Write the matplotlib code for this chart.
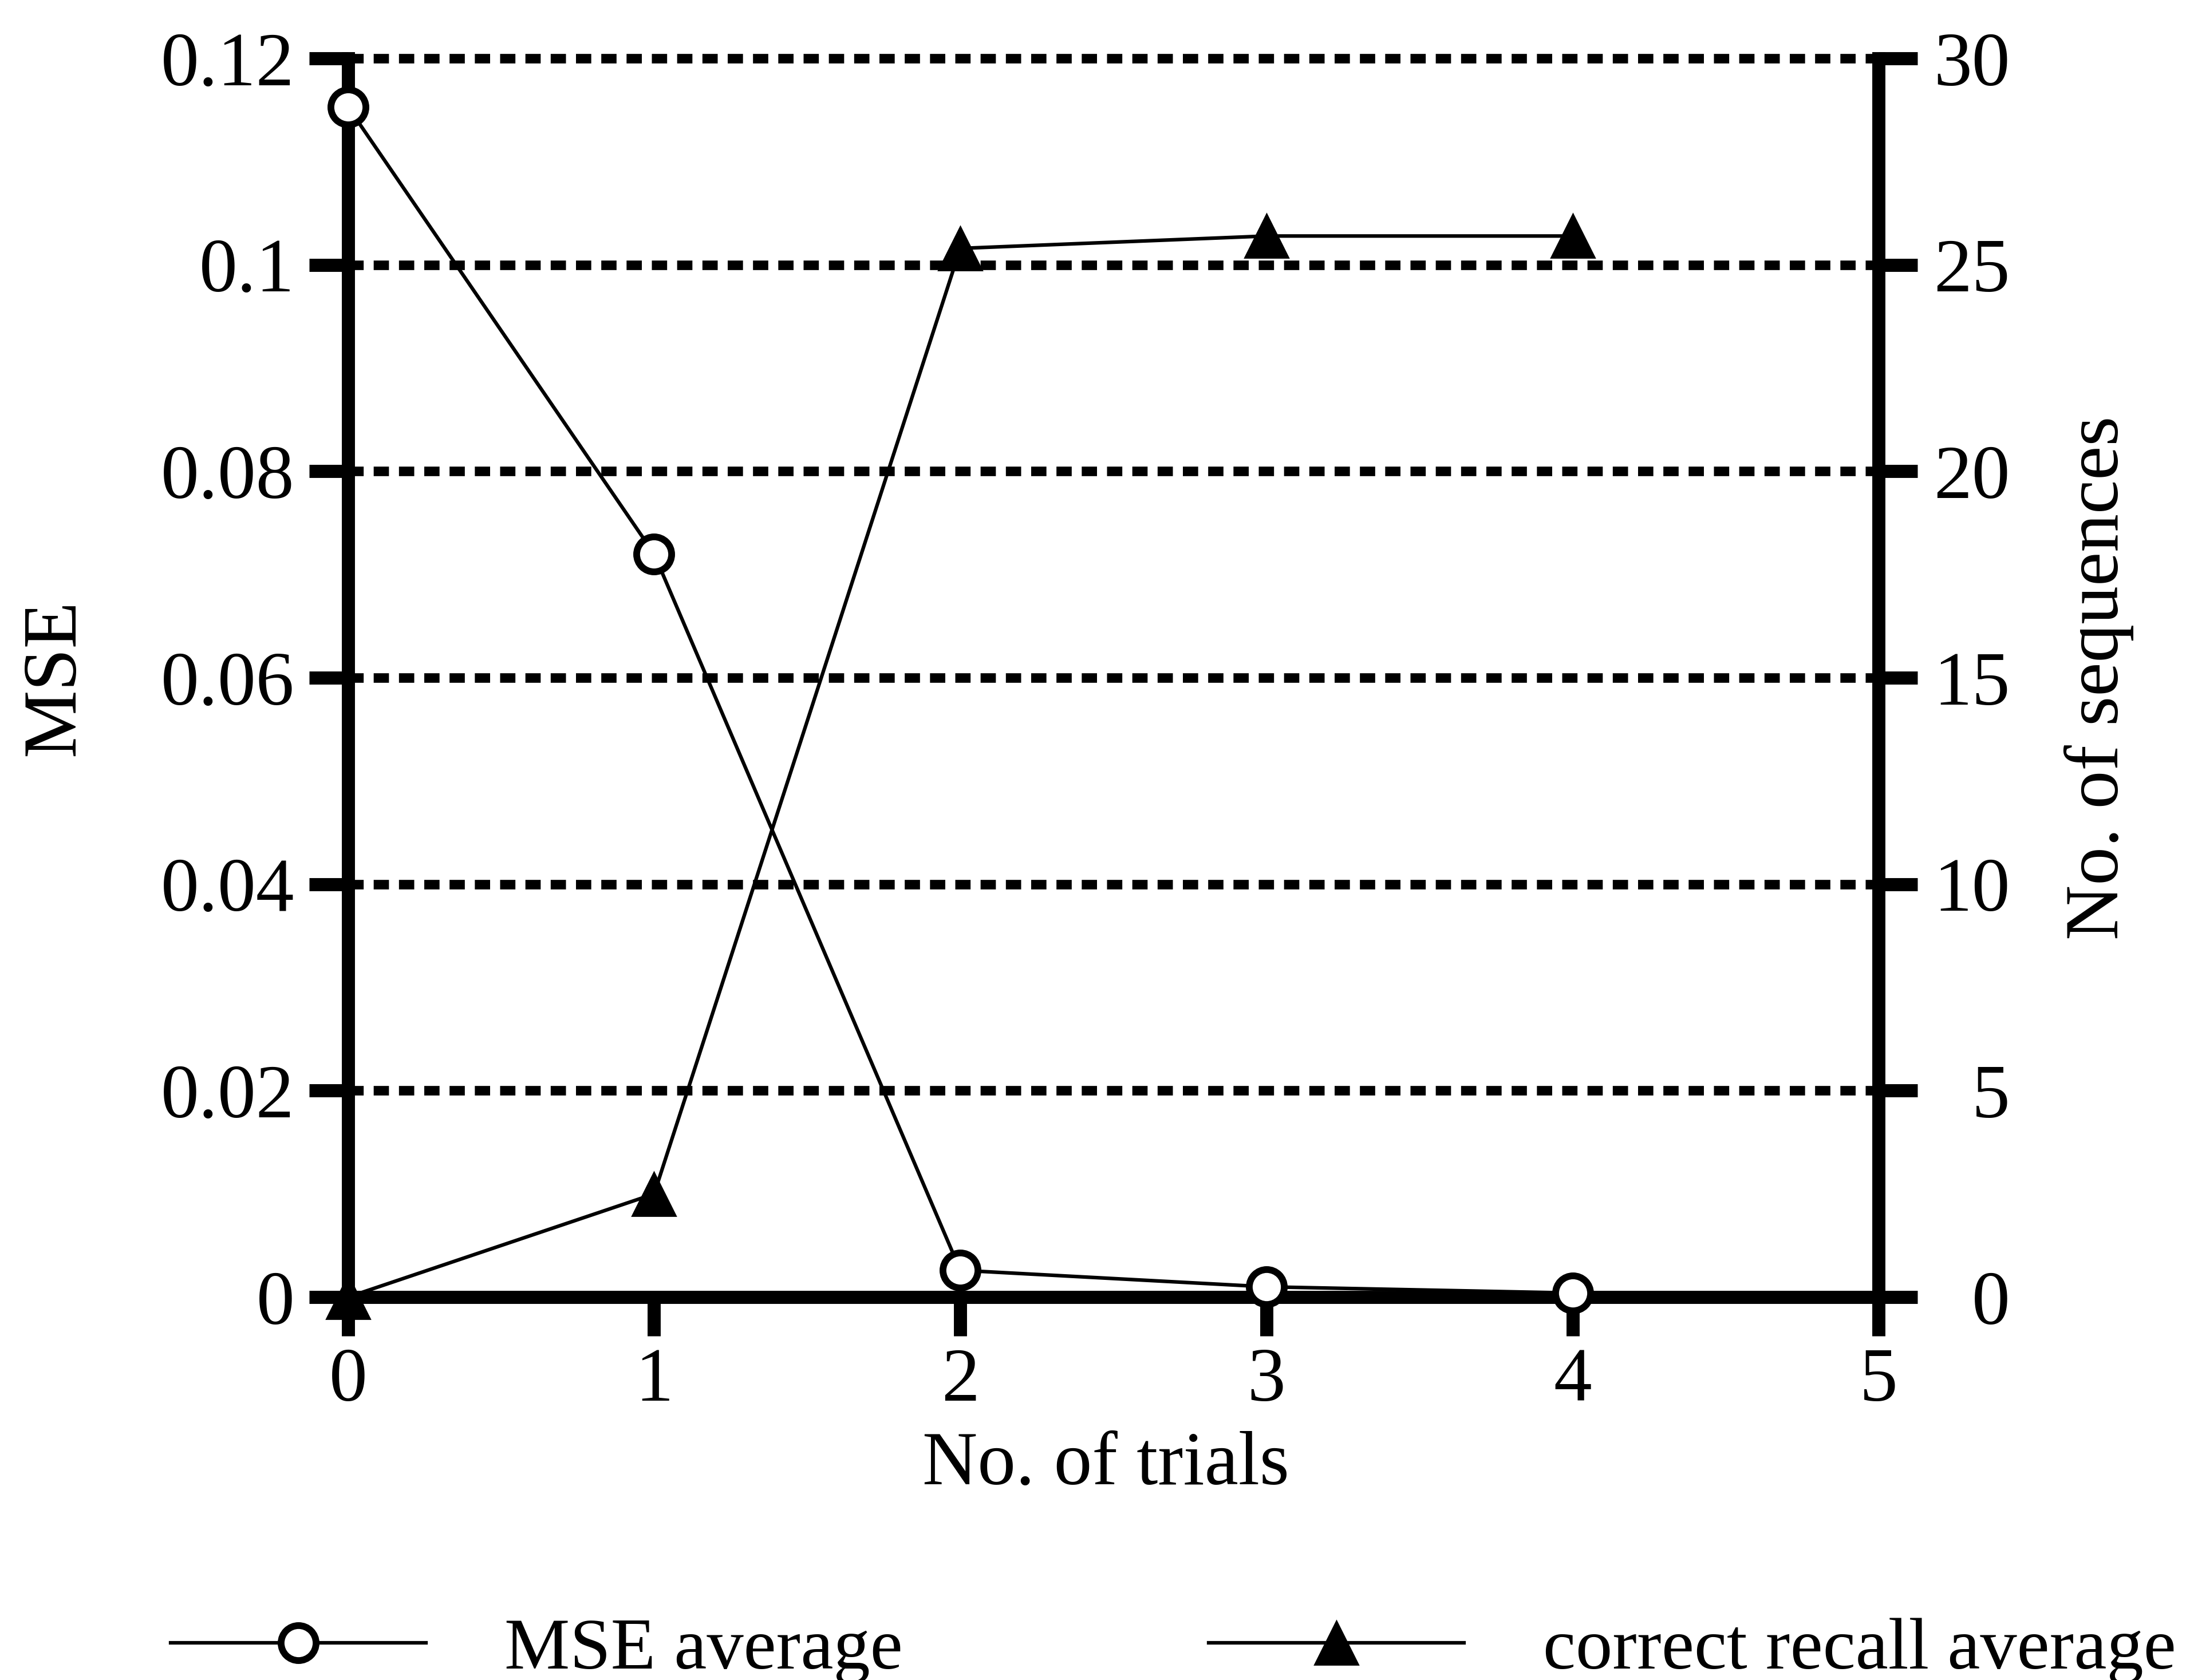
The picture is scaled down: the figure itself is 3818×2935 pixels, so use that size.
import matplotlib
matplotlib.use("Agg")
from matplotlib import pyplot as plt

# trials vs. error and recall
trials = [0, 1, 2, 3, 4]
mse_avg = [0.1153, 0.072, 0.0026, 0.0010, 0.0004]
recall_avg = [0, 2.5, 25.4, 25.7, 25.7]

mse_ticks = [0, 0.02, 0.04, 0.06, 0.08, 0.1, 0.12]
mse_ticklabels = ['0', '0.02', '0.04', '0.06', '0.08', '0.1', '0.12']
seq_ticks = [0, 5, 10, 15, 20, 25, 30]
trial_ticks = [0, 1, 2, 3, 4, 5]

plt.rcParams['font.family'] = ['Liberation Serif', 'DejaVu Serif']
plt.rcParams['font.size'] = 96

fig = plt.figure(figsize=(38.18, 29.35), dpi=100)
ax = fig.add_axes([0.1592, 0.2279, 0.7002, 0.7373])
ax2 = ax.twinx()

# dotted grid, drawn by hand so the top one is not clipped
for t in mse_ticks[1:]:
	ax.axhline(t, color='black', lw=12, linestyle=(0, (1.6, 1.05)),
		clip_on=False, zorder=1)

l1, = ax.plot(trials, mse_avg, color='black', lw=4.5, marker='o', markersize=44,
	markerfacecolor='white', markeredgecolor='black', markeredgewidth=8.5,
	clip_on=False, zorder=3)
l2, = ax2.plot(trials, recall_avg, color='black', lw=4.5, marker='^', markersize=55,
	markerfacecolor='black', markeredgecolor='black', markeredgewidth=2,
	clip_on=False, zorder=3)

ax.set_xlim(0, 5)
ax.set_ylim(0, 0.12)
ax2.set_ylim(0, 30)

ax.set_xticks(trial_ticks)
ax.set_yticks(mse_ticks)
ax.set_yticklabels(mse_ticklabels)
ax2.set_yticks(seq_ticks)

for s in ['top', 'right']:
	ax.spines[s].set_visible(False)
for s in ['top', 'left', 'bottom']:
	ax2.spines[s].set_visible(False)
for s in ['left', 'bottom']:
	ax.spines[s].set_linewidth(16.5)
ax2.spines['right'].set_linewidth(16.5)

ax.tick_params(axis='y', direction='out', length=49, width=16.5, pad=18)
ax.tick_params(axis='x', direction='out', length=49, width=16.5, pad=14)
ax2.tick_params(axis='y', direction='out', length=49, width=16.5, pad=116)
for lab in ax2.get_yticklabels():
	lab.set_horizontalalignment('right')

ax.set_ylabel('MSE')
ax.yaxis.label.set_verticalalignment('center')
ax.yaxis.set_label_coords(-0.1912, 0.5)
ax2.set_ylabel('No. of sequences')
ax2.yaxis.label.set_verticalalignment('center')
ax2.yaxis.label.set_rotation(90)
ax2.yaxis.set_label_coords(1.144, 0.5)
ax.set_xlabel('No. of trials')
ax.xaxis.set_label_coords(0.495, -0.108)

fig.legend([l1, l2], ['MSE average', 'correct recall average'], ncol=2,
	loc='center left', bbox_to_anchor=(0.078, 0.0177), frameon=False,
	fontsize=92.5, handlelength=3.47, handletextpad=1.07, columnspacing=4.16,
	numpoints=1, borderaxespad=0, borderpad=0)

fig.savefig('out.png', dpi=100)
